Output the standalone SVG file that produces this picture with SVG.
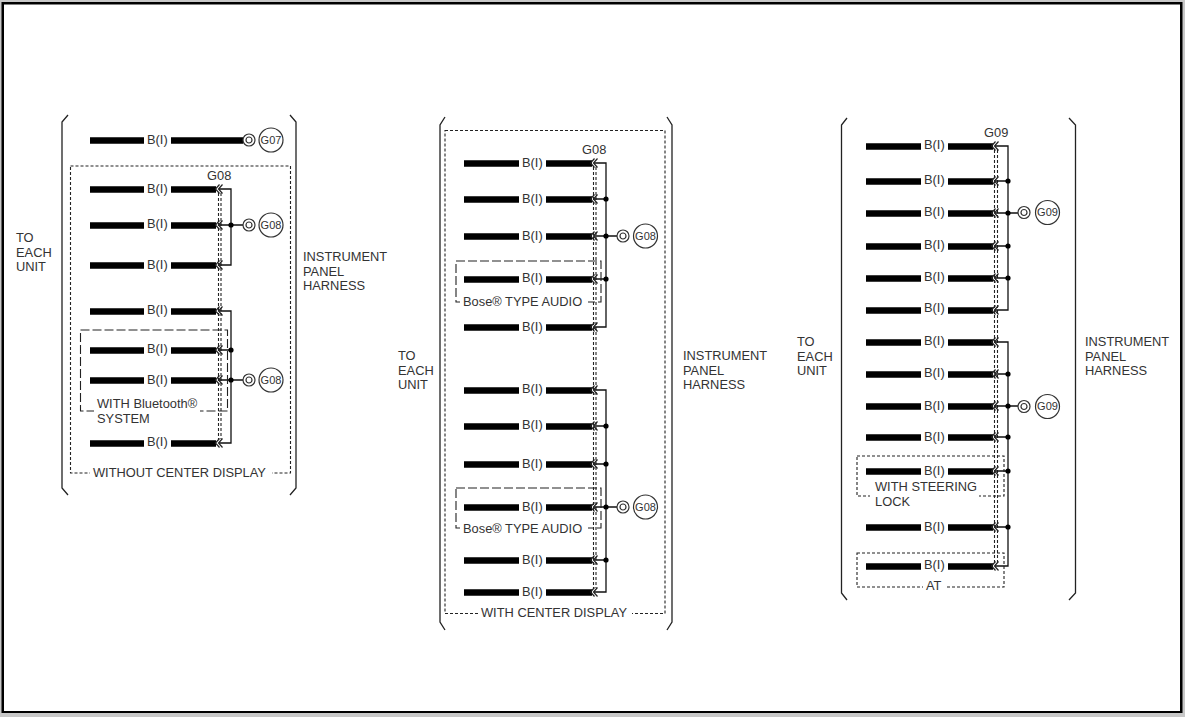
<svg xmlns="http://www.w3.org/2000/svg" xmlns:xlink="http://www.w3.org/1999/xlink" width="1185" height="717" viewBox="0 0 1185 717">
<style>
text{font-family:"Liberation Sans",Arial,sans-serif;font-size:12.850px;fill:#333}
.sm{font-size:11px}
.bar{stroke:#000;stroke-width:6.500;fill:none;transform:translateY(.4px)}
.thin{stroke:#111;stroke-width:1.300;fill:none}
.br{stroke:#222;stroke-width:1.300;fill:none}
.ds{stroke:#222;stroke-width:1.100;fill:none;stroke-dasharray:3 2}
.dl{stroke:#222;stroke-width:1.100;fill:none;stroke-dasharray:9 3}
.ck{stroke:#222;stroke-width:1.200;fill:none}
.c{stroke:#333;stroke-width:1.200;fill:#fff}
.bg{fill:#fff;stroke:none}
</style>
<defs>
<g id="chev"><path class="ck" d="M4,-4.500 L0,0 L4,4.500 M7,-4.500 L3,0 L7,4.500"/></g>
<g id="gnd"><circle class="c" cx="0" cy="0" r="6"/><circle class="c" cx="0" cy="0" r="3"/></g>
<circle id="dot" r="2.600" fill="#000"/>
</defs>
<rect width="1185" height="717" fill="#c8c8c8"/>
<rect x="1.500" y="2" width="1181" height="711" fill="#000"/>
<rect x="4" y="4.500" width="1176" height="706.500" fill="#fff"/>

<g id="connectors">
<path class="ds" d="M218.500,193 V439 M221,193 V439"/>
<path class="thin" d="M219,189 H231 V265 H219 M219,225 H243 M219,311 H231 V443 H219 M219,350 H231 M219,380 H243"/>
<use href="#dot" x="231" y="225"/><use href="#dot" x="231" y="350"/><use href="#dot" x="231" y="380"/>
<path class="ds" d="M593.500,167 V588 M596,167 V588"/>
<path class="thin" d="M594,163 H606 V327 H594 M594,199 H606 M594,236 H617 M594,279 H606 M594,390 H606 V592 H594 M594,426 H606 M594,464 H606 M594,507 H617 M594,560 H606"/>
<use href="#dot" x="606" y="199"/><use href="#dot" x="606" y="236"/><use href="#dot" x="606" y="279"/><use href="#dot" x="606" y="426"/><use href="#dot" x="606" y="464"/><use href="#dot" x="606" y="507"/><use href="#dot" x="606" y="560"/>
<path class="ds" d="M994.500,150 V562 M997.500,150 V562"/>
<path class="thin" d="M995,146 H1008 V310 H995 M995,181 H1008 M995,213 H1018 M995,246 H1008 M995,278 H1008 M995,342 H1008 V566 H995 M995,374 H1008 M995,406 H1018 M995,437 H1008 M995,471 H1008 M995,527 H1008"/>
<use href="#dot" x="1008" y="181"/><use href="#dot" x="1008" y="213"/><use href="#dot" x="1008" y="246"/><use href="#dot" x="1008" y="278"/><use href="#dot" x="1008" y="374"/><use href="#dot" x="1008" y="406"/><use href="#dot" x="1008" y="437"/><use href="#dot" x="1008" y="471"/><use href="#dot" x="1008" y="527"/>
</g>

<g id="panel1">
<path class="br" d="M68,115 L62,122 V488 L68,495 M290,115 L296,122 V488 L290,495"/>
<rect class="ds" x="70.500" y="166" width="220" height="307"/>
<rect class="dl" x="80.500" y="330" width="147" height="81"/>
<rect class="bg" x="94" y="400" width="106" height="28"/>
<rect class="bg" x="90" y="466" width="182" height="14"/>
<text x="16" y="242">TO</text><text x="16" y="257">EACH</text><text x="16" y="271">UNIT</text>
<text x="303" y="261">INSTRUMENT</text><text x="303" y="276">PANEL</text><text x="303" y="290">HARNESS</text>
<text x="97" y="408">WITH Bluetooth®</text><text x="97" y="423">SYSTEM</text>
<text x="93" y="477">WITHOUT CENTER DISPLAY</text>
<text x="207" y="180">G08</text>
</g>
<g id="p1r0"><path class="bar" d="M90,140 H144 M171,140 H243"/><text x="147" y="144">B(I)</text></g>
<g id="p1g07"><use href="#gnd" x="249" y="140"/><circle class="c" cx="271" cy="140" r="12"/><text class="sm" x="271" y="144" text-anchor="middle">G07</text></g>
<g id="p1r1"><path class="bar" d="M90,189 H144 M171,189 H216"/><text x="147" y="193">B(I)</text><use href="#chev" x="215.500" y="189"/></g>
<g id="p1r2"><path class="bar" d="M90,225 H144 M171,225 H216"/><text x="147" y="228">B(I)</text><use href="#chev" x="215.500" y="225"/></g>
<g id="p1r3"><path class="bar" d="M90,265 H144 M171,265 H216"/><text x="147" y="269">B(I)</text><use href="#chev" x="215.500" y="265"/></g>
<g id="p1r4"><path class="bar" d="M90,311 H144 M171,311 H216"/><text x="147" y="314">B(I)</text><use href="#chev" x="215.500" y="311"/></g>
<g id="p1r5"><path class="bar" d="M90,350 H144 M171,350 H216"/><text x="147" y="353">B(I)</text><use href="#chev" x="215.500" y="350"/></g>
<g id="p1r6"><path class="bar" d="M90,380 H144 M171,380 H216"/><text x="147" y="384">B(I)</text><use href="#chev" x="215.500" y="380"/></g>
<g id="p1r7"><path class="bar" d="M90,443 H144 M171,443 H216"/><text x="147" y="446">B(I)</text><use href="#chev" x="215.500" y="443"/></g>
<g id="p1g1"><use href="#gnd" x="249" y="225"/><circle class="c" cx="271" cy="225" r="12"/><text class="sm" x="271" y="229" text-anchor="middle">G08</text></g>
<g id="p1g2"><use href="#gnd" x="249" y="380"/><circle class="c" cx="271" cy="380" r="12"/><text class="sm" x="271" y="384" text-anchor="middle">G08</text></g>

<g id="panel2">
<path class="br" d="M445,117 L440,125 V622 L445,630 M667,117 L672,125 V622 L667,630"/>
<rect class="ds" x="445" y="130.500" width="220" height="483"/>
<rect class="dl" x="456" y="261" width="145" height="41"/>
<rect class="dl" x="456" y="488" width="145" height="40"/>
<rect class="bg" x="460" y="295" width="128" height="14"/>
<rect class="bg" x="460" y="521" width="128" height="14"/>
<rect class="bg" x="478" y="606" width="154" height="14"/>
<text x="398" y="360">TO</text><text x="398" y="375">EACH</text><text x="398" y="389">UNIT</text>
<text x="683" y="360">INSTRUMENT</text><text x="683" y="375">PANEL</text><text x="683" y="389">HARNESS</text>
<text x="463" y="306">Bose® TYPE AUDIO</text><text x="463" y="533">Bose® TYPE AUDIO</text>
<text x="481" y="617">WITH CENTER DISPLAY</text>
<text x="582" y="154">G08</text>
</g>
<g id="p2r1"><path class="bar" d="M464,163 H519 M546,163 H592"/><text x="522" y="167">B(I)</text><use href="#chev" x="590.500" y="163"/></g>
<g id="p2r2"><path class="bar" d="M464,199 H519 M546,199 H592"/><text x="522" y="203">B(I)</text><use href="#chev" x="590.500" y="199"/></g>
<g id="p2r3"><path class="bar" d="M464,236 H519 M546,236 H592"/><text x="522" y="240">B(I)</text><use href="#chev" x="590.500" y="236"/></g>
<g id="p2r4"><path class="bar" d="M464,279 H519 M546,279 H592"/><text x="522" y="282">B(I)</text><use href="#chev" x="590.500" y="279"/></g>
<g id="p2r5"><path class="bar" d="M464,327 H519 M546,327 H592"/><text x="522" y="331">B(I)</text><use href="#chev" x="590.500" y="327"/></g>
<g id="p2r6"><path class="bar" d="M464,390 H519 M546,390 H592"/><text x="522" y="393">B(I)</text><use href="#chev" x="590.500" y="390"/></g>
<g id="p2r7"><path class="bar" d="M464,426 H519 M546,426 H592"/><text x="522" y="429">B(I)</text><use href="#chev" x="590.500" y="426"/></g>
<g id="p2r8"><path class="bar" d="M464,464 H519 M546,464 H592"/><text x="522" y="468">B(I)</text><use href="#chev" x="590.500" y="464"/></g>
<g id="p2r9"><path class="bar" d="M464,507 H519 M546,507 H592"/><text x="522" y="511">B(I)</text><use href="#chev" x="590.500" y="507"/></g>
<g id="p2r10"><path class="bar" d="M464,560 H519 M546,560 H592"/><text x="522" y="564">B(I)</text><use href="#chev" x="590.500" y="560"/></g>
<g id="p2r11"><path class="bar" d="M464,592 H519 M546,592 H592"/><text x="522" y="596">B(I)</text><use href="#chev" x="590.500" y="592"/></g>
<g id="p2g1"><use href="#gnd" x="623" y="236"/><circle class="c" cx="645.500" cy="236" r="12"/><text class="sm" x="645.500" y="240" text-anchor="middle">G08</text></g>
<g id="p2g2"><use href="#gnd" x="623" y="507"/><circle class="c" cx="645.500" cy="507" r="12"/><text class="sm" x="645.500" y="511" text-anchor="middle">G08</text></g>

<g id="panel3">
<path class="br" d="M847,118 L841.500,125 V593 L847,600 M1069,118 L1075.500,125 V593 L1069,600"/>
<rect class="ds" x="857" y="456" width="147" height="40"/>
<rect class="ds" x="857" y="553" width="147" height="34"/>
<rect class="bg" x="870" y="488" width="109" height="26"/>
<rect class="bg" x="923" y="580" width="24" height="14"/>
<text x="797" y="346">TO</text><text x="797" y="361">EACH</text><text x="797" y="375">UNIT</text>
<text x="1085" y="346">INSTRUMENT</text><text x="1085" y="361">PANEL</text><text x="1085" y="375">HARNESS</text>
<text x="875" y="491">WITH STEERING</text><text x="875" y="506">LOCK</text>
<text x="926" y="590">AT</text>
<text x="984" y="137">G09</text>
</g>
<g id="p3r1"><path class="bar" d="M866,146 H921 M948,146 H993"/><text x="924" y="149">B(I)</text><use href="#chev" x="991.500" y="146"/></g>
<g id="p3r2"><path class="bar" d="M866,181 H921 M948,181 H993"/><text x="924" y="184">B(I)</text><use href="#chev" x="991.500" y="181"/></g>
<g id="p3r3"><path class="bar" d="M866,213 H921 M948,213 H993"/><text x="924" y="216">B(I)</text><use href="#chev" x="991.500" y="213"/></g>
<g id="p3r4"><path class="bar" d="M866,246 H921 M948,246 H993"/><text x="924" y="249">B(I)</text><use href="#chev" x="991.500" y="246"/></g>
<g id="p3r5"><path class="bar" d="M866,278 H921 M948,278 H993"/><text x="924" y="281">B(I)</text><use href="#chev" x="991.500" y="278"/></g>
<g id="p3r6"><path class="bar" d="M866,310 H921 M948,310 H993"/><text x="924" y="312">B(I)</text><use href="#chev" x="991.500" y="310"/></g>
<g id="p3r7"><path class="bar" d="M866,342 H921 M948,342 H993"/><text x="924" y="345">B(I)</text><use href="#chev" x="991.500" y="342"/></g>
<g id="p3r8"><path class="bar" d="M866,374 H921 M948,374 H993"/><text x="924" y="377">B(I)</text><use href="#chev" x="991.500" y="374"/></g>
<g id="p3r9"><path class="bar" d="M866,406 H921 M948,406 H993"/><text x="924" y="410">B(I)</text><use href="#chev" x="991.500" y="406"/></g>
<g id="p3r10"><path class="bar" d="M866,437 H921 M948,437 H993"/><text x="924" y="441">B(I)</text><use href="#chev" x="991.500" y="437"/></g>
<g id="p3r11"><path class="bar" d="M866,471 H921 M948,471 H993"/><text x="924" y="475">B(I)</text><use href="#chev" x="991.500" y="471"/></g>
<g id="p3r12"><path class="bar" d="M866,527 H921 M948,527 H993"/><text x="924" y="531">B(I)</text><use href="#chev" x="991.500" y="527"/></g>
<g id="p3r13"><path class="bar" d="M866,566 H921 M948,566 H993"/><text x="924" y="569">B(I)</text><use href="#chev" x="991.500" y="566"/></g>
<g id="p3g1"><use href="#gnd" x="1024" y="212.500"/><circle class="c" cx="1047.500" cy="212.500" r="12"/><text class="sm" x="1047.500" y="216" text-anchor="middle">G09</text></g>
<g id="p3g2"><use href="#gnd" x="1024" y="406.500"/><circle class="c" cx="1047.500" cy="406.500" r="12"/><text class="sm" x="1047.500" y="410" text-anchor="middle">G09</text></g>
</svg>
